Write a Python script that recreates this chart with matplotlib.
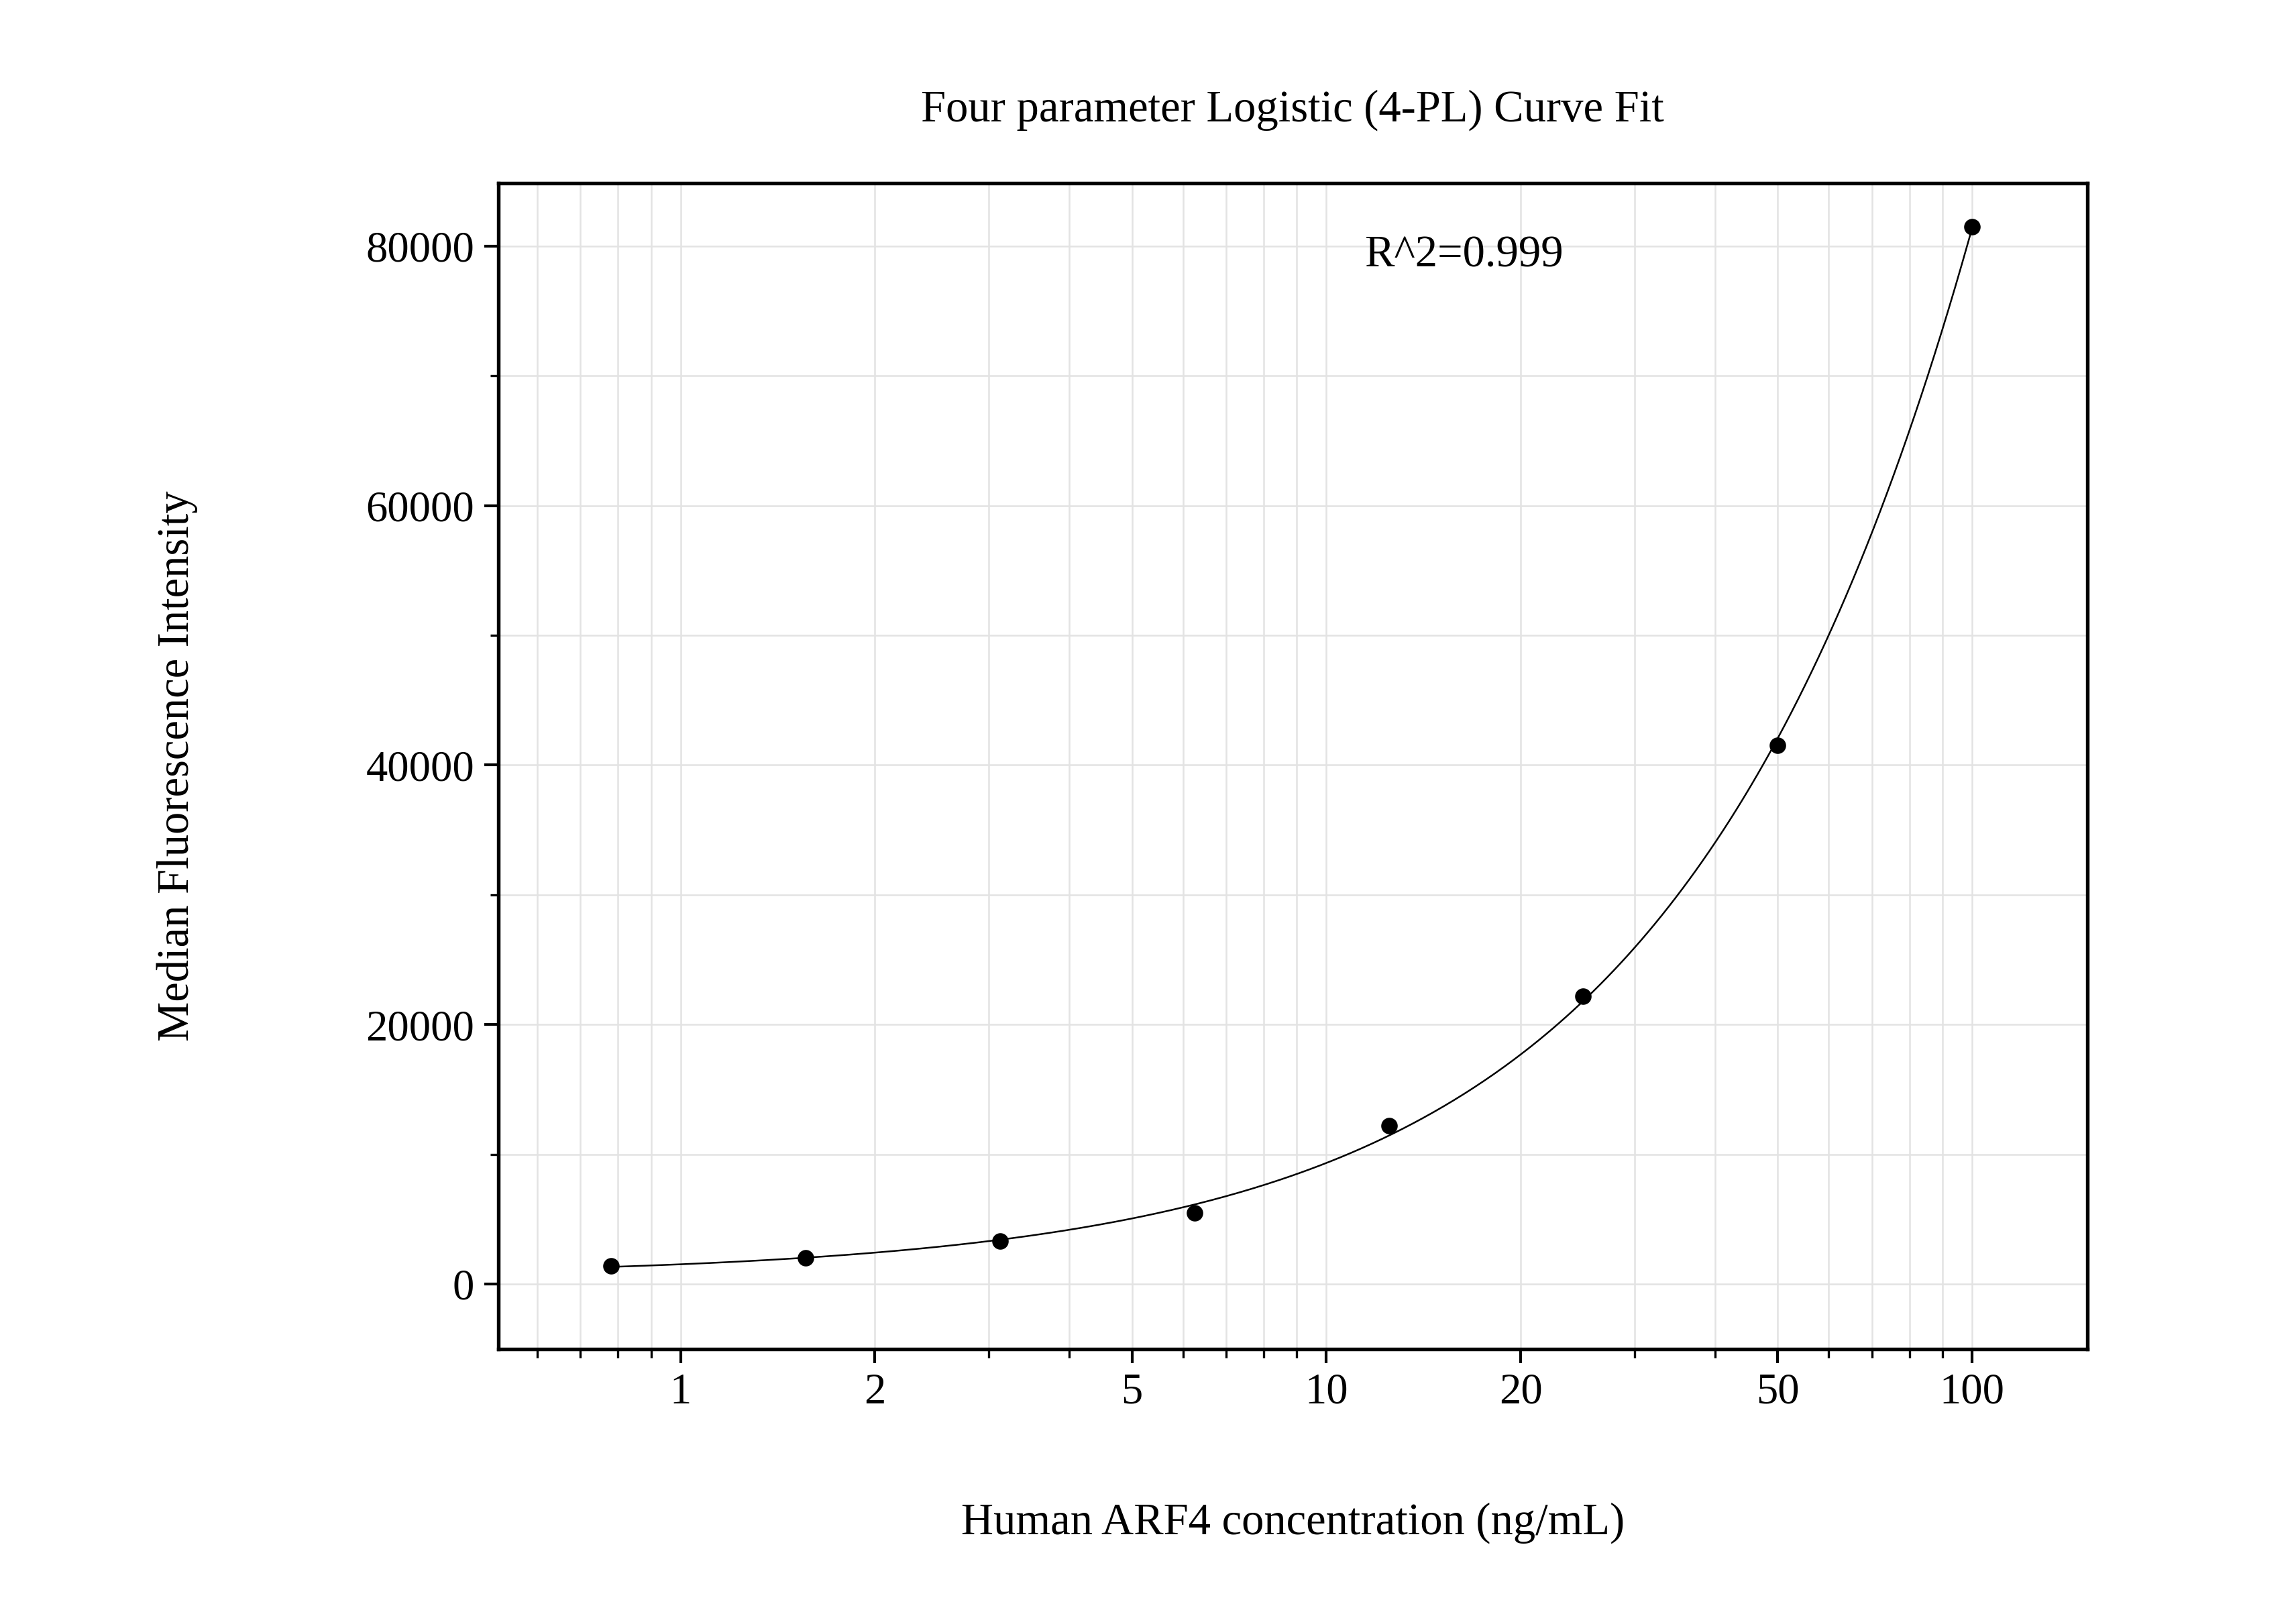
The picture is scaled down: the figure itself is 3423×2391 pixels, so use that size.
import numpy as np
import matplotlib
matplotlib.use("Agg")
import matplotlib.pyplot as plt
from matplotlib.ticker import FixedLocator, NullFormatter, LogLocator

conc = [0.78125, 1.5625, 3.125, 6.25, 12.5, 25, 50, 100]
mfi = [1400, 2000, 3300, 5500, 12200, 22200, 41500, 81500]
xticks = [1, 2, 5, 10, 20, 50, 100]
xticklabels = ["1", "2", "5", "10", "20", "50", "100"]
yticks = [0, 20000, 40000, 60000, 80000]

plt.rcParams["font.family"] = "Liberation Serif"
x = np.array(conc); y = np.array(mfi, float)

# 4PL fit via grid search over C,B with linear LS for A,D
best = None
for logC in np.linspace(1, 4, 301):
    C = 10**logC
    for B in np.linspace(0.5, 3, 251):
        f = 1 / (1 + (x / C) ** B)
        M = np.column_stack([f, 1 - f])
        coef, *_ = np.linalg.lstsq(M, y, rcond=None)
        r = np.sum((M @ coef - y) ** 2)
        if best is None or r < best[0]:
            best = (r, C, B, coef)
_, C, B, (A, D) = best
xs = np.logspace(np.log10(conc[0]), np.log10(conc[-1]), 400)
fs = 1 / (1 + (xs / C) ** B)
ys = A * fs + D * (1 - fs)

fig = plt.figure(figsize=(3423/300, 2391/300), dpi=300)
ax = fig.add_axes([0.217, 0.159, 0.692, 0.727])
ax.set_xscale("log")
ax.set_xlim(0.522, 150.7)
ax.set_ylim(-5000, 84870)
ax.plot(xs, ys, color="black", lw=0.6)
ax.scatter(conc, mfi, s=24, color="black", zorder=3)
ax.set_xticks(xticks); ax.set_xticklabels(xticklabels)
ax.xaxis.set_minor_locator(LogLocator(subs=np.arange(2, 10)))
ax.xaxis.set_minor_formatter(NullFormatter())
ax.set_yticks(yticks)
ax.yaxis.set_minor_locator(FixedLocator([10000, 30000, 50000, 70000]))
ax.grid(True, which="both", color="#e3e3e3", lw=0.6)
ax.set_axisbelow(True)
for s in ax.spines.values():
    s.set_linewidth(1.3)
ax.tick_params(which="major", length=5, width=1, labelsize=15.5)
ax.tick_params(which="minor", length=3, width=0.8)
ax.set_xlabel("Human ARF4 concentration (ng/mL)", fontsize=16, labelpad=32)
ax.set_ylabel("Median Fluorescence Intensity", fontsize=16, labelpad=60)
ax.set_title("Four parameter Logistic (4-PL) Curve Fit", fontsize=16, pad=22)
ax.text(0.545, 0.955, "R^2=0.999", transform=ax.transAxes, fontsize=16, va="top")
fig.savefig("out.png", dpi=300)
